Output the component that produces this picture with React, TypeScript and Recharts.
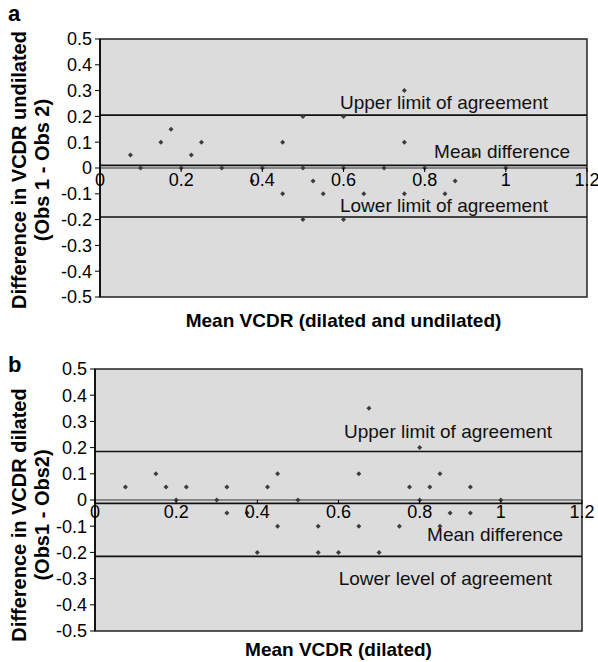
import React from "react";
import { ScatterChart, Scatter, XAxis, YAxis, CartesianGrid, ReferenceLine, ReferenceArea } from "recharts";

const FONT = "'Liberation Sans', Arial, Helvetica, sans-serif";

// axis ticks
const xTicks = [0, 0.2, 0.4, 0.6, 0.8, 1, 1.2];
const yTicks = [-0.5, -0.4, -0.3, -0.2, -0.1, 0, 0.1, 0.2, 0.3, 0.4, 0.5];

// panel a: mean VCDR (dilated and undilated) vs difference undilated
const meanA = [0.075, 0.1, 0.15, 0.175, 0.2, 0.225, 0.25, 0.3, 0.375, 0.4, 0.45, 0.45, 0.5, 0.5, 0.5, 0.525, 0.55, 0.6, 0.6, 0.6, 0.65, 0.7, 0.75, 0.75, 0.75, 0.8, 0.85, 0.875, 0.925, 1.0];
const diffA = [0.05, 0, 0.1, 0.15, 0, 0.05, 0.1, 0, -0.05, 0, 0.1, -0.1, 0.2, 0, -0.2, -0.05, -0.1, 0.2, 0, -0.2, -0.1, 0, 0.3, 0.1, -0.1, 0, -0.1, -0.05, 0.05, 0];
const limitsA = [0.205, 0.01, -0.19]; // upper, mean, lower

// panel b: mean VCDR (dilated) vs difference dilated
const meanB = [0.075, 0.15, 0.175, 0.2, 0.225, 0.3, 0.325, 0.325, 0.375, 0.4, 0.425, 0.45, 0.45, 0.5, 0.55, 0.55, 0.6, 0.65, 0.65, 0.675, 0.7, 0.75, 0.775, 0.8, 0.8, 0.825, 0.85, 0.85, 0.875, 0.925, 0.925, 1.0];
const diffB = [0.05, 0.1, 0.05, 0, 0.05, 0, 0.05, -0.05, -0.05, -0.2, 0.05, 0.1, -0.1, 0, -0.1, -0.2, -0.2, 0.1, -0.1, 0.35, -0.2, -0.1, 0.05, 0.2, 0, 0.05, 0.1, -0.1, -0.05, 0.05, -0.05, 0];
const limitsB = [0.185, -0.013, -0.215];

const toPoints = (xs: number[], ys: number[]) => xs.map((x, i) => ({ x, y: ys[i] }));

function Diamond(props: any) {
  const { cx, cy } = props;
  const r = 2.5;
  return <polygon points={`${cx},${cy - r} ${cx + r},${cy} ${cx},${cy + r} ${cx - r},${cy}`} fill="#3c3c3c" />;
}

// x axis sits on y = 0, so draw the ticks shifted up from the bottom edge
function XTick(props: any) {
  const { x, y, payload, shift } = props;
  const y0 = y - shift;
  return (
    <g>
      <line x1={x} x2={x} y1={y0} y2={y0 + 4} stroke="#000" />
      <text x={x} y={y0 + 5} dy="0.71em" textAnchor="middle" fontSize={18} fontFamily={FONT} fill="#000">
        {String(payload.value)}
      </text>
    </g>
  );
}

function LineLabel(props: any) {
  const { viewBox, text, dx, dy } = props;
  const { x, y, width } = viewBox;
  return (
    <text x={x + width + dx} y={y + dy} textAnchor="end" fontSize={19} fontFamily={FONT} fill="#111">
      {text}
    </text>
  );
}

function XTitle(props: any) {
  const { viewBox, text, dy } = props;
  const { x, y, width } = viewBox;
  return (
    <text x={x + width / 2} y={y + dy} textAnchor="middle" fontSize={19} fontWeight="bold" fontFamily={FONT} fill="#000">
      {text}
    </text>
  );
}

function YTitle(props: any) {
  const { lines, cy, letter, letterY } = props;
  const xs = [19, 42];
  return (
    <g fontFamily={FONT} fontWeight="bold" fill="#000">
      <text x={8} y={letterY} fontSize={22}>{letter}</text>
      {lines.map((t: string, i: number) => (
        <text key={i} x={xs[i]} y={cy} dy="0.35em" textAnchor="middle" fontSize={20} transform={`rotate(-90 ${xs[i]} ${cy})`}>
          {t}
        </text>
      ))}
    </g>
  );
}

type PanelProps = {
  data: { x: number; y: number }[];
  limits: number[];
  labels: string[];
  labelPos: number[][];
  yLines: string[];
  yTitleCy: number;
  letter: string;
  letterY: number;
  xTitle: string;
  xTitleDy: number;
  margin: { top: number; right: number; bottom: number; left: number };
  height: number;
};

function Panel(p: PanelProps) {
  const plotH = p.height - p.margin.top - p.margin.bottom - 30;
  const shift = plotH / 2;
  return (
    <ScatterChart width={598} height={p.height} margin={p.margin}>
      <CartesianGrid fill="#dcdcdc" horizontal={false} vertical={false} />
      <ReferenceArea x1={0} x2={1.2} y1={-0.5} y2={0.5} fill="none" stroke="#222" strokeWidth={1.5} />
      <XAxis
        type="number"
        dataKey="x"
        domain={[0, 1.2]}
        ticks={xTicks}
        height={30}
        axisLine={false}
        tickLine={false}
        tickSize={0}
        tickMargin={0}
        interval={0}
        tick={<XTick shift={shift} />}
        label={<XTitle text={p.xTitle} dy={p.xTitleDy} />}
      />
      <YAxis
        type="number"
        dataKey="y"
        domain={[-0.5, 0.5]}
        ticks={yTicks}
        width={60}
        interval={0}
        axisLine={{ stroke: "#000", strokeWidth: 1.5 }}
        tickLine={{ stroke: "#000" }}
        tickSize={5}
        tickMargin={3}
        tick={{ fontSize: 18, fontFamily: FONT, fill: "#000" }}
        label={<YTitle lines={p.yLines} cy={p.yTitleCy} letter={p.letter} letterY={p.letterY} />}
      />
      <ReferenceLine y={0} stroke="#333" strokeWidth={1} />
      {p.limits.map((v, i) => (
        <ReferenceLine
          key={i}
          y={v}
          stroke="#111"
          strokeWidth={1.6}
          label={<LineLabel text={p.labels[i]} dx={p.labelPos[i][0]} dy={p.labelPos[i][1]} />}
        />
      ))}
      <Scatter data={p.data} shape={<Diamond />} isAnimationActive={false} />
    </ScatterChart>
  );
}

export default function App() {
  return (
    <div style={{ position: "absolute", left: 0, top: 0, width: 598, height: 662, background: "#fff" }}>
      <Panel
        data={toPoints(meanA, diffA)}
        limits={limitsA}
        labels={["Upper limit of agreement", "Mean difference", "Lower limit of agreement"]}
        labelPos={[[-39, -6], [-17, -7], [-39, -5]]}
        yLines={["Difference in VCDR undilated", "(Obs 1 - Obs 2)"]}
        yTitleCy={170}
        letter="a"
        letterY={21}
        xTitle="Mean VCDR (dilated and undilated)"
        xTitleDy={30}
        margin={{ top: 39, right: 11, bottom: 4, left: 40 }}
        height={331}
      />
      <Panel
        data={toPoints(meanB, diffB)}
        limits={limitsB}
        labels={["Upper limit of agreement", "Mean difference", "Lower level of agreement"]}
        labelPos={[[-30, -14], [-19, 38], [-30, 29]]}
        yLines={["Difference in VCDR dilated", "(Obs1 - Obs2)"]}
        yTitleCy={184}
        letter="b"
        letterY={41}
        xTitle="Mean VCDR (dilated)"
        xTitleDy={25}
        margin={{ top: 38, right: 16, bottom: 1, left: 35 }}
        height={331}
      />
    </div>
  );
}
